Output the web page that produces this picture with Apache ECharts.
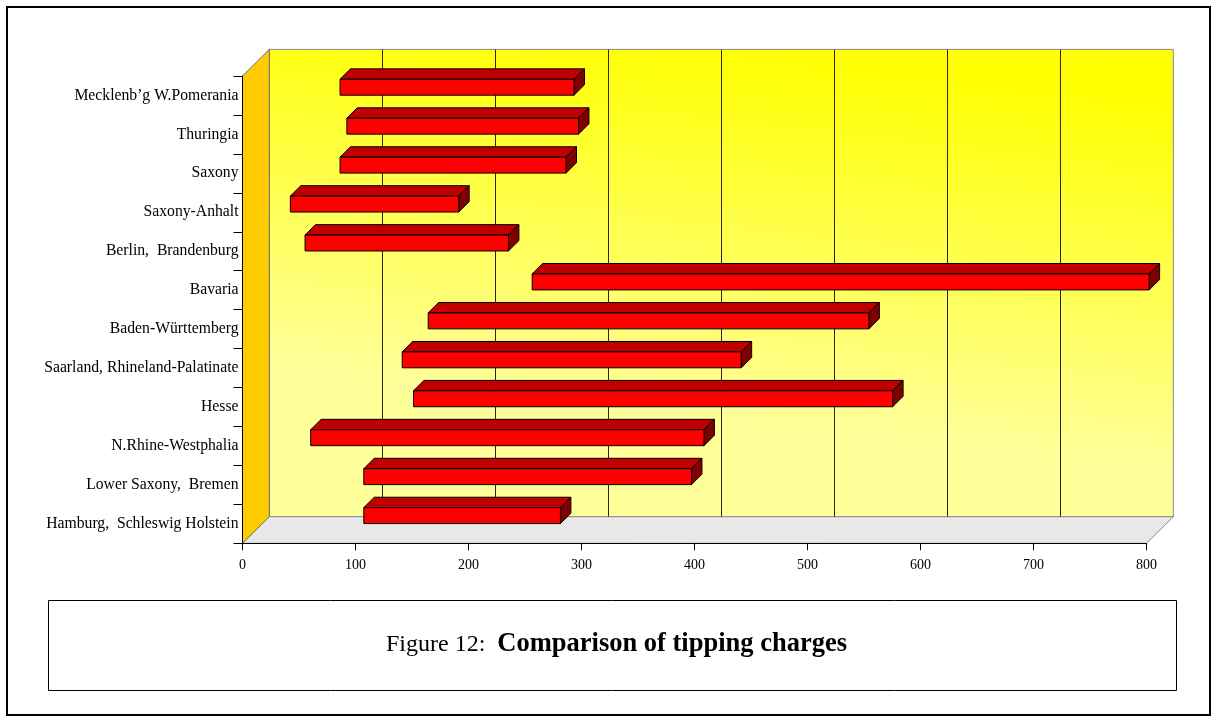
<!DOCTYPE html>
<html>
<head>
<meta charset="utf-8">
<script src="https://cdn.jsdelivr.net/npm/echarts@6/dist/echarts.min.js"></script>
<style>
  html, body { margin: 0; padding: 0; background: #ffffff; }
  #chart { width: 1217px; height: 722px; }
</style>
</head>
<body>
<div id="chart"></div>
<script>
// Regions, listed bottom to top as they appear on the category axis
const categories = [
  'Hamburg,  Schleswig Holstein',
  'Lower Saxony,  Bremen',
  'N.Rhine-Westphalia',
  'Hesse',
  'Saarland, Rhineland-Palatinate',
  'Baden-Württemberg',
  'Bavaria',
  'Berlin,  Brandenburg',
  'Saxony-Anhalt',
  'Saxony',
  'Thuringia',
  'Mecklenb’g W.Pomerania'
];
// Lowest and highest tipping charge per region
const lowCharges  = [100, 100, 53, 144, 134, 157, 249, 48, 35, 79, 85, 79];
const highCharges = [274, 390, 401, 568, 434, 547, 795, 228, 184, 279, 290, 286];
// Value axis ticks
const axisTicks = [0, 100, 200, 300, 400, 500, 600, 700, 800];

// 3D look: depth offset of the back wall and the bars' depth span
const DEPTH_X = 26.8, DEPTH_Y = -26.6;
const BAR_FRONT = 0.31, BAR_BACK = 0.70, BAR_THICK = 0.41;
const SERIF = '"Liberation Serif", "Times New Roman", serif';

const chart = echarts.init(document.getElementById('chart'), null, { renderer: 'canvas' });

function renderWalls(params, api) {
  const cs = params.coordSys;
  const x = cs.x, y = cs.y, w = cs.width, h = cs.height;
  const dx = DEPTH_X, dy = DEPTH_Y;
  const children = [];
  // back wall
  children.push({
    type: 'polygon',
    shape: { points: [[x + dx, y + dy], [x + w + dx, y + dy], [x + w + dx, y + h + dy], [x + dx, y + h + dy]] },
    style: {
      fill: new echarts.graphic.LinearGradient(0.53, 0, 0.47, 1, [
        { offset: 0, color: '#ffff00' },
        { offset: 0.78, color: '#ffff99' },
        { offset: 1, color: '#ffff99' }
      ]),
      stroke: '#8a8a8a', lineWidth: 1
    }
  });
  // floor
  children.push({
    type: 'polygon',
    shape: { points: [[x, y + h], [x + w, y + h], [x + w + dx, y + h + dy], [x + dx, y + h + dy]] },
    style: { fill: '#e8e8e8', stroke: '#8a8a8a', lineWidth: 1 }
  });
  // left side wall
  children.push({
    type: 'polygon',
    shape: { points: [[x, y], [x + dx, y + dy], [x + dx, y + h + dy], [x, y + h]] },
    style: { fill: '#ffcc00', stroke: '#6e6e6e', lineWidth: 1 }
  });
  // gridlines on the back wall
  axisTicks.slice(1, -1).forEach(function (v) {
    const gx = Math.round(api.coord([v, 0])[0] + dx) + 0.5;
    children.push({
      type: 'line',
      shape: { x1: gx, y1: y + dy, x2: gx, y2: y + h + dy },
      style: { stroke: '#2a2a10', lineWidth: 1 }
    });
  });
  return { type: 'group', children: children };
}

function renderBar(params, api) {
  const cat = api.value(2);
  const p0 = api.coord([api.value(0), cat]);
  const p1 = api.coord([api.value(1), cat]);
  const band = api.size([0, 1])[1];
  const hh = band * BAR_THICK;
  const xL = p0[0] + BAR_FRONT * DEPTH_X;
  const xR = p1[0] + BAR_FRONT * DEPTH_X;
  const yc = p0[1] + BAR_FRONT * DEPTH_Y;
  const top = yc - hh / 2, bottom = yc + hh / 2;
  const bx = (BAR_BACK - BAR_FRONT) * DEPTH_X;
  const by = (BAR_BACK - BAR_FRONT) * DEPTH_Y;
  const edge = { stroke: '#000000', lineWidth: 1, lineJoin: 'miter' };
  return {
    type: 'group',
    children: [
      {
        type: 'polygon',
        shape: { points: [[xL, top], [xR, top], [xR + bx, top + by], [xL + bx, top + by]] },
        style: Object.assign({ fill: '#c00000' }, edge)
      },
      {
        type: 'polygon',
        shape: { points: [[xR, top], [xR + bx, top + by], [xR + bx, bottom + by], [xR, bottom]] },
        style: Object.assign({ fill: '#800000' }, edge)
      },
      {
        type: 'rect',
        shape: { x: xL, y: top, width: xR - xL, height: bottom - top },
        style: Object.assign({ fill: '#ff0000' }, edge)
      }
    ]
  };
}

const barData = categories.map(function (c, i) { return [lowCharges[i], highCharges[i], i]; });

chart.setOption({
  animation: false,
  backgroundColor: '#ffffff',
  title: {
    text: '{a|Figure 12:  }{b|Comparison of tipping charges}',
    left: 381,
    top: 626,
    textStyle: {
      rich: {
        a: { fontFamily: SERIF, fontSize: 24, color: '#000', fontWeight: 'normal' },
        b: { fontFamily: SERIF, fontSize: 26.5, color: '#000', fontWeight: 'bold' }
      }
    }
  },
  graphic: [
    { type: 'rect', shape: { x: 7, y: 7, width: 1203, height: 708 }, style: { fill: 'none', stroke: '#000', lineWidth: 2 }, z: 0 },
    { type: 'rect', shape: { x: 48.5, y: 600.5, width: 1128, height: 90 }, style: { fill: 'none', stroke: '#000', lineWidth: 1 }, z: 0 }
  ],
  grid: { left: 242.5, right: 70.5, top: 76, bottom: 178.7, containLabel: false },
  xAxis: {
    type: 'value',
    min: axisTicks[0],
    max: axisTicks[axisTicks.length - 1],
    interval: 100,
    z: 10,
    axisLine: { show: true, lineStyle: { color: '#000', width: 1 } },
    axisTick: { show: true, length: 7, lineStyle: { color: '#000' } },
    axisLabel: { fontFamily: SERIF, fontSize: 14, color: '#000', margin: 15 },
    splitLine: { show: false }
  },
  yAxis: {
    type: 'category',
    data: categories,
    z: 10,
    axisLine: { show: true, lineStyle: { color: '#000', width: 1 } },
    axisTick: { show: true, length: 9, lineStyle: { color: '#000' } },
    axisLabel: { fontFamily: SERIF, fontSize: 15.7, color: '#000', margin: 4, padding: [4, 0, 0, 0] },
    splitLine: { show: false }
  },
  series: [
    {
      type: 'custom',
      name: 'walls',
      z: 1,
      silent: true,
      data: [[0, 0]],
      renderItem: renderWalls
    },
    {
      type: 'custom',
      name: 'Tipping charges',
      z: 3,
      data: barData,
      encode: { x: [0, 1], y: 2 },
      renderItem: renderBar
    }
  ]
});
</script>
</body>
</html>
